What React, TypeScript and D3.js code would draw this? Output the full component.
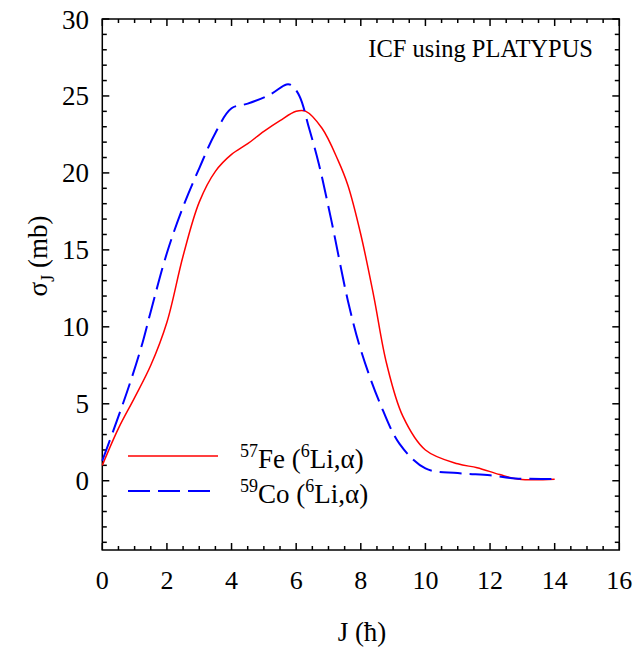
import React from "react";
import * as d3 from "d3";

const feJ = [0, 0.5, 1, 1.5, 2, 2.5, 3, 3.5, 4, 4.5, 5, 5.5, 6, 6.3, 6.8, 7.3, 7.6, 8, 8.4, 8.8, 9.3, 10, 11, 11.6, 12.3, 12.9, 14];
const feV = [1.0, 3.4, 5.4, 7.5, 10.3, 14.6, 18.1, 20.1, 21.2, 21.9, 22.7, 23.4, 24.0, 24.0, 22.9, 20.8, 19.2, 16.0, 12.0, 7.6, 4.2, 2.0, 1.1, 0.85, 0.4, 0.1, 0.1];
const coJ = [0, 0.35, 0.85, 1.25, 1.5, 2, 2.5, 3, 3.5, 4, 4.5, 5.2, 5.7, 5.85, 6.1, 6.4, 6.7, 7.1, 7.6, 8.0, 8.6, 9.2, 10, 11, 12, 12.8, 13.9];
const coV = [1.3, 3.3, 6.3, 9.0, 11.0, 14.8, 17.8, 20.3, 22.6, 24.2, 24.5, 25.1, 25.75, 25.7, 25.0, 22.9, 20.6, 16.8, 11.7, 8.5, 5.0, 2.4, 0.8, 0.5, 0.35, 0.15, 0.12];

const xMajor = [0, 2, 4, 6, 8, 10, 12, 14, 16];
const yMajor = [0, 5, 10, 15, 20, 25, 30];

const W = 634, H = 647;
const L = 102.3, R = 619.3, T = 19, B = 550;
const FONT = "'Liberation Serif', 'Times New Roman', serif";

export default function App() {
  const x = d3.scaleLinear().domain([0, 16]).range([L, R]);
  const y = d3.scaleLinear().domain([-4.5, 30]).range([B, T]);
  const line = d3.line<[number, number]>().x(d => x(d[0])).y(d => y(d[1])).curve(d3.curveCatmullRom.alpha(0.5));
  const fe = feJ.map((j, i) => [j, feV[i]] as [number, number]);
  const co = coJ.map((j, i) => [j, coV[i]] as [number, number]);
  const xMinor = d3.range(0, 16.001, 0.5);
  const yMinor = d3.range(-4, 30.001, 1);
  return (
    <svg width={W} height={H} style={{ position: "absolute", left: 0, top: 0 }} fontFamily={FONT}>
      <rect x={0} y={0} width={W} height={H} fill="white" />
      <g stroke="black" strokeWidth={1.5}>
        <rect x={L} y={T} width={R - L} height={B - T} fill="none" />
        {xMinor.map(v => {
          const len = v % 2 === 0 ? 7 : 4;
          return (
            <g key={"x" + v}>
              <line x1={x(v)} x2={x(v)} y1={B} y2={B - len} />
              <line x1={x(v)} x2={x(v)} y1={T} y2={T + len} />
            </g>
          );
        })}
        {yMinor.map(v => {
          const len = v % 5 === 0 ? 7 : 4.5;
          return (
            <g key={"y" + v}>
              <line x1={L} x2={L + len} y1={y(v)} y2={y(v)} />
              <line x1={R} x2={R - len} y1={y(v)} y2={y(v)} />
            </g>
          );
        })}
      </g>
      {xMajor.map(v => (
        <text key={"xl" + v} x={x(v)} y={589} textAnchor="middle" fontSize={26}>{v}</text>
      ))}
      {yMajor.map(v => (
        <text key={"yl" + v} x={89} y={y(v) + 9.5} textAnchor="end" fontSize={27}>{v}</text>
      ))}
      <path d={line(fe) || ""} fill="none" stroke="#ff0000" strokeWidth={1.5} />
      <path d={line(co) || ""} fill="none" stroke="#0000ff" strokeWidth={2} strokeDasharray="22 8" />
      <text x={593} y={57} textAnchor="end" fontSize={24.5}>ICF using PLATYPUS</text>
      <line x1={128} x2={218} y1={456} y2={456} stroke="#ff0000" strokeWidth={1.5} />
      <line x1={128} x2={212} y1={491} y2={491} stroke="#0000ff" strokeWidth={2} strokeDasharray="22 8" />
      <text x={240} y={468} fontSize={27}>
        <tspan fontSize={18} dy={-11}>57</tspan><tspan dy={11}>Fe (</tspan><tspan fontSize={18} dy={-11}>6</tspan><tspan dy={11}>Li,α)</tspan>
      </text>
      <text x={240} y={503} fontSize={27}>
        <tspan fontSize={18} dy={-11}>59</tspan><tspan dy={11}>Co (</tspan><tspan fontSize={18} dy={-11}>6</tspan><tspan dy={11}>Li,α)</tspan>
      </text>
      <text x={362} y={641} textAnchor="middle" fontSize={27}>J (ħ)</text>
      <text transform={`translate(47, 256) rotate(-90)`} textAnchor="middle" fontSize={27}>
        <tspan>σ</tspan><tspan fontSize={18} dy={7}>J</tspan><tspan dy={-7}> (mb)</tspan>
      </text>
    </svg>
  );
}
